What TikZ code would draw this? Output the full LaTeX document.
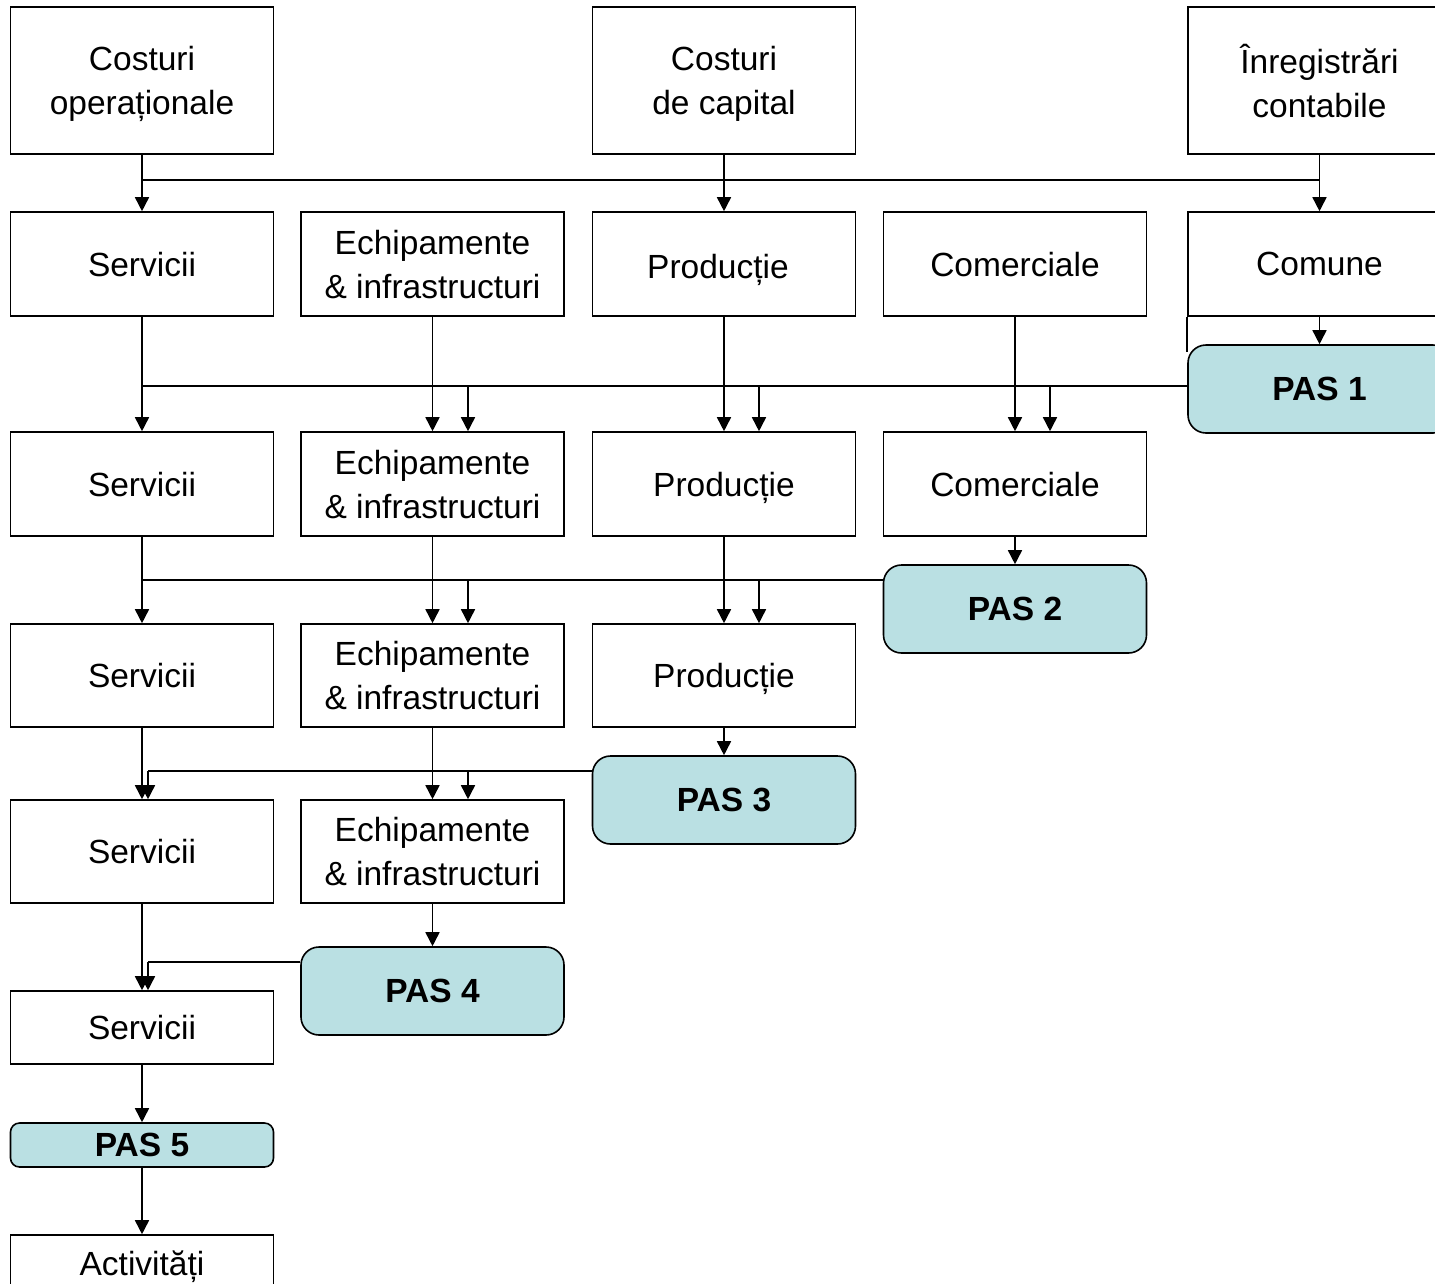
\documentclass[tikz,border=0pt]{standalone}
\usepackage{fontspec}
\setmainfont{Liberation Sans}
\usetikzlibrary{arrows.meta,calc}
\definecolor{pasblue}{RGB}{186,224,227}
\begin{document}
\begin{tikzpicture}[x=1pt,y=-1pt,
  every node/.style={font=\fontsize{33.5}{44}\selectfont},
  bx/.style={draw,line width=1.6pt,minimum width=263pt,inner sep=0pt,align=center,text depth=0pt},
  pasbox/.style={draw,line width=1.6pt,fill=pasblue,rounded corners=18pt,minimum width=263pt,minimum height=88pt,inner sep=0pt,font=\fontsize{33.5}{44}\selectfont\bfseries},
  ln/.style={line width=1.6pt},
  arr/.style={line width=1.6pt,-{Triangle[width=14pt,length=14pt]}}]
\useasboundingbox (0,0) rectangle (1435,1283);
\clip (0,0) rectangle (1435,1283);
% row 0
\node[bx,minimum height=147pt] (op) at (142,80.5) {Costuri\\operaționale};
\node[bx,minimum height=147pt] (cap) at (724,80.5) {Costuri\\de capital};
\node[bx,minimum height=147pt] (inreg) at (1319.5,80.5) {Înregistrări\\contabile};
% row 1
\node[bx,minimum height=104pt] (s1) at (142,264) {Servicii};
\node[bx,minimum height=104pt] (e1) at (432.5,264) {Echipamente\\\& infrastructuri};
\node[bx,minimum height=104pt] (p1) at (724,264) {\raisebox{-5pt}{Producție}\hspace*{12pt}};
\node[bx,minimum height=104pt] (c1) at (1015,264) {Comerciale};
\node[bx,minimum height=104pt] (com1) at (1319.5,264) {Comune};
\node[pasbox] (pas1) at (1319.5,389) {PAS 1};
% row 2
\node[bx,minimum height=104pt] (s2) at (142,484) {Servicii};
\node[bx,minimum height=104pt] (e2) at (432.5,484) {Echipamente\\\& infrastructuri};
\node[bx,minimum height=104pt] (p2) at (724,484) {Producție};
\node[bx,minimum height=104pt] (c2) at (1015,484) {Comerciale};
\node[pasbox] (pas2) at (1015,609) {PAS 2};
% row 3
\node[bx,minimum height=103pt] (s3) at (142,675.5) {Servicii};
\node[bx,minimum height=103pt] (e3) at (432.5,675.5) {Echipamente\\\& infrastructuri};
\node[bx,minimum height=103pt] (p3) at (724,675.5) {Producție};
\node[pasbox] (pas3) at (724,800) {PAS 3};
% row 4
\node[bx,minimum height=103pt] (s4) at (142,851.5) {Servicii};
\node[bx,minimum height=103pt] (e4) at (432.5,851.5) {Echipamente\\\& infrastructuri};
\node[pasbox] (pas4) at (432.5,991) {PAS 4};
% row 5
\node[bx,minimum height=73pt] (s5) at (142,1027.5) {Servicii};
\node[pasbox,minimum height=44pt,rounded corners=9pt] (pas5) at (142,1145) {PAS 5};
\node[bx,minimum height=56pt] (act) at (142,1263) {Activități};
% level 0 connectors
\coordinate (h0a) at (142,180);
\coordinate (h0b) at (1319.5,180);
\draw[ln] (op.south) -- (h0a) -- (h0b);
\draw[ln] (inreg.south) -- (h0b);
\draw[arr] (h0a) -- (s1.north);
\draw[arr] (cap.south) -- (p1.north);
\draw[arr] (h0b) -- (com1.north);
% level 1
\coordinate (l1) at (142,386);
\draw[arr] (com1.south) -- (pas1.north);
\draw[ln] (com1.south west) -- ($(pas1.north west)+(0,8)$);
\draw[ln] (l1) -- (l1 -| pas1.west);
\draw[arr] (s1.south) -- (s2.north);
\draw[arr] (e1.south) -- (e2.north);
\draw[arr] (p1.south) -- (p2.north);
\draw[arr] (c1.south) -- (c2.north);
\draw[arr] ([xshift=35.5pt]e2.north |- l1) -- ([xshift=35.5pt]e2.north);
\draw[arr] ([xshift=35pt]p2.north |- l1) -- ([xshift=35pt]p2.north);
\draw[arr] ([xshift=35pt]c2.north |- l1) -- ([xshift=35pt]c2.north);
% level 2
\coordinate (l2) at (142,580);
\draw[arr] (c2.south) -- (pas2.north);
\draw[ln] (l2) -- (l2 -| pas2.west);
\draw[arr] (s2.south) -- (s3.north);
\draw[arr] (e2.south) -- (e3.north);
\draw[arr] (p2.south) -- (p3.north);
\draw[arr] ([xshift=35.5pt]e3.north |- l2) -- ([xshift=35.5pt]e3.north);
\draw[arr] ([xshift=35pt]p3.north |- l2) -- ([xshift=35pt]p3.north);
% level 3
\coordinate (l3) at (148,771);
\draw[arr] (p3.south) -- (pas3.north);
\draw[ln] (l3) -- (l3 -| pas3.west);
\draw[arr] (s3.south) -- (s4.north);
\draw[arr] (e3.south) -- (e4.north);
\draw[arr] (l3) -- (l3 |- s4.north);
\draw[arr] ([xshift=35.5pt]e4.north |- l3) -- ([xshift=35.5pt]e4.north);
% level 4
\coordinate (l4) at (148,962);
\draw[arr] (e4.south) -- (pas4.north);
\draw[ln] (l4) -- (l4 -| pas4.west);
\draw[arr] (s4.south) -- (s5.north);
\draw[arr] (l4) -- (l4 |- s5.north);
% level 5
\draw[arr] (s5.south) -- (pas5.north);
\draw[arr] (pas5.south) -- (act.north);
\end{tikzpicture}
\end{document}
